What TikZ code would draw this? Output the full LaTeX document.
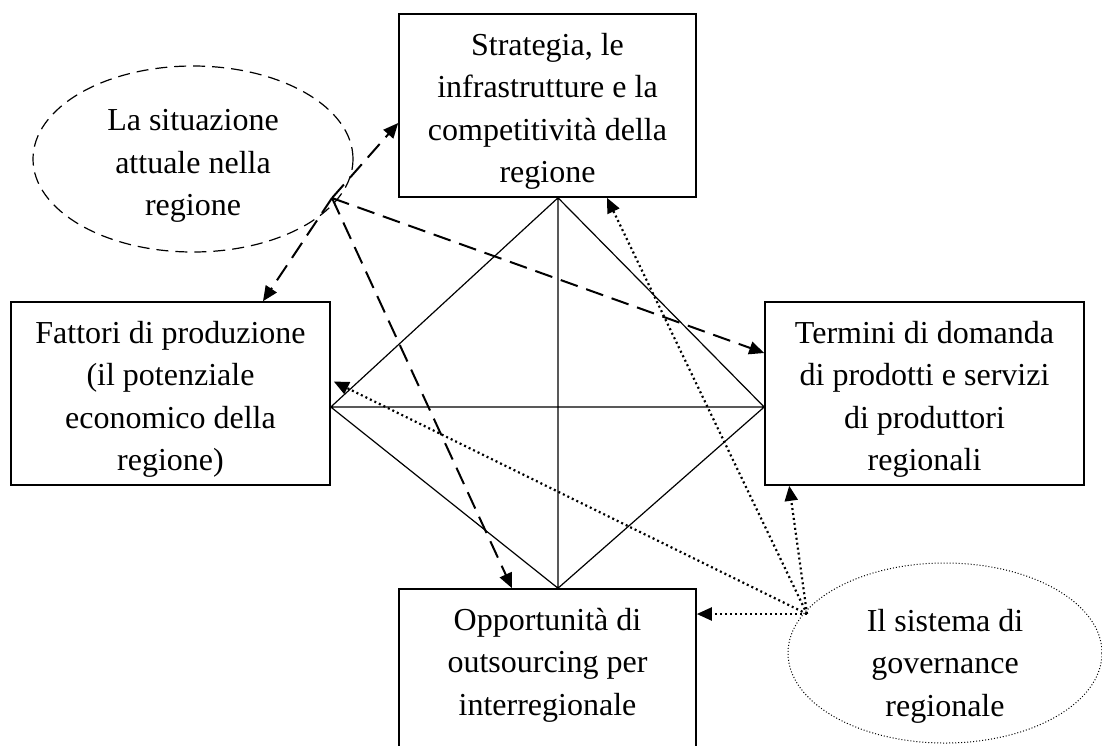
\documentclass[tikz,border=0pt]{standalone}
\usepackage{fontspec}
\setmainfont{Liberation Serif}
\usetikzlibrary{shapes.geometric,arrows.meta,calc}
\newcommand{\drop}[1]{\rule{0pt}{#1}}
\begin{document}
\begin{tikzpicture}[x=0.5pt,y=-0.5pt]
	\tikzstyle{every node}+=[inner sep=0pt,font=\fontsize{16pt}{21.3pt}\selectfont,align=center]
	\tikzstyle{box}=[draw,line width=0.8pt,minimum width=148.5pt,minimum height=91.5pt]
	\tikzstyle{diag}=[line width=0.6pt]
	\tikzstyle{infl}=[line width=1pt,dash pattern=on 9pt off 4.5pt,-{Triangle[length=7.5pt,width=6.5pt]}]
	\tikzstyle{rule}=[line width=1.1pt,dash pattern=on 1pt off 1.5pt,-{Triangle[length=7.5pt,width=6.5pt]}]
	\clip (0,0) rectangle (1102,745);
	% boxes
	\node [box] (strat) at (547.5,105.5) {\drop{17pt}Strategia, le\\infrastrutture e la\\competitività della\\regione};
	\node [box,minimum width=159.5pt] (fatt) at (170.5,393.5) {\drop{17pt}Fattori di produzione\\(il potenziale\\economico della\\regione)};
	\node [box,minimum width=159.5pt] (term) at (924.5,393.5) {\drop{17pt}Termini di domanda\\di prodotti e servizi\\di produttori\\regionali};
	\node [box] (opp) at (547.5,680.5) {\drop{20pt}Opportunità di\\outsourcing per\\interregionale\\\strut};
	% ellipses
	\node [ellipse,draw,line width=0.6pt,dash pattern=on 6pt off 3.5pt,minimum width=160pt,minimum height=93pt] (sit) at (193,159) {};
	\node (sittext) at ($(sit)+(0,7)$) {La situazione\\attuale nella\\regione};
	\node [ellipse,draw,line width=0.5pt,dash pattern=on 0.5pt off 1pt,minimum width=157pt,minimum height=90pt] (gov) at (945,653) {};
	\node (govtext) at ($(gov)+(0,13)$) {Il sistema di\\governance\\regionale};
	% diamond
	\coordinate (dt) at ($(strat.south)+(10.5,0)$);
	\coordinate (dl) at ($(fatt.east)+(0,13.5)$);
	\coordinate (dr) at ($(term.west)+(0,13.5)$);
	\coordinate (db) at ($(opp.north)+(10.5,0)$);
	\draw [diag] (dt) -- (dl) -- (db) -- (dr) -- cycle (dt) -- (db) (dl) -- (dr);
	% dashed arrows
	\coordinate (sh) at (332,198);
	\draw [infl] (sh) -- ($(strat.west)+(0,17.5)$);
	\draw [infl] (sh) -- ($(fatt.north)+(92.5,0)$);
	\draw [infl] (sh) -- ($(term.west)+(0,-40.5)$);
	\draw [infl] (sh) -- ($(opp.north)+(-35.5,0)$);
	% dotted arrows
	\coordinate (gh) at (807,614);
	\draw [rule] (gh) -- ($(strat.south)+(59.5,0)$);
	\draw [rule] (gh) -- ($(fatt.east)+(3,-12)$);
	\draw [rule] (gh) -- ($(term.south west)+(25,0)$);
	\draw [rule] (gh) -- (gh -| opp.east);
\end{tikzpicture}
\end{document}
